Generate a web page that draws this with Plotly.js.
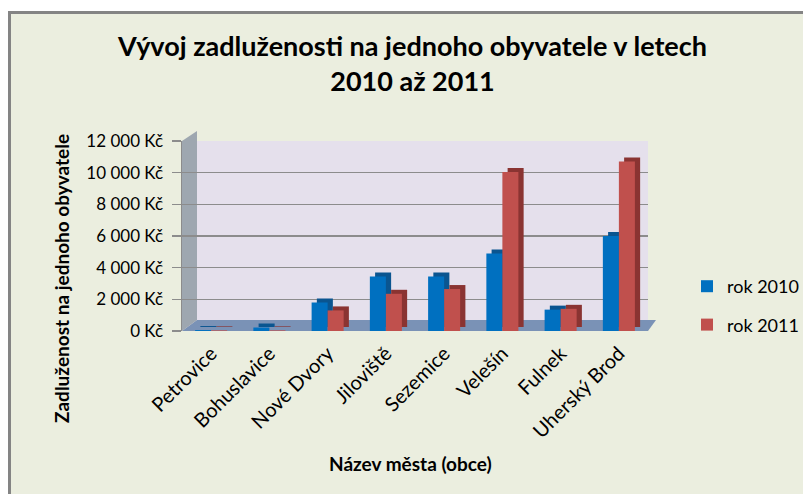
<!DOCTYPE html>
<html>
<head>
<meta charset="utf-8">
<script src="https://cdn.plot.ly/plotly-3.0.1.min.js"></script>
<style>
  html, body { margin: 0; padding: 0; background: #ffffff; width: 803px; height: 494px; overflow: hidden; }
  #frame { position: absolute; left: 8px; top: 11px; width: 800px; height: 490px;
           background: #EBEEDF; border-left: 3px solid #848484; border-top: 3px solid #848484; }
  #chart { position: absolute; left: 0; top: 0; width: 840px; height: 494px; }
</style>
</head>
<body>
<div id="frame"></div>
<div id="chart"></div>
<script>
// ---- data ----
const cities = ["Petrovice", "Bohuslavice", "Nové Dvory", "Jiloviště", "Sezemice", "Velešín", "Fulnek", "Uherský Brod"];
const rok2010 = [60, 220, 1800, 3450, 3450, 4900, 1350, 6000];
const rok2011 = [40, 40, 1300, 2350, 2650, 10050, 1400, 10700];
const seriesNames = ["rok 2010", "rok 2011"];
const yTickVals = [0, 2000, 4000, 6000, 8000, 10000, 12000];
const yTickText = ["0 Kč", "2 000 Kč", "4 000 Kč", "6 000 Kč", "8 000 Kč", "10 000 Kč", "12 000 Kč"];

// ---- geometry (pixels) ----
const W = 840, H = 494;   // drawn wider than the 803px window; the extra is cropped
const mL = 182, mR = W - 648, mT = 141, mB = 163;
const plotW = W - mL - mR, plotH = H - mT - mB;
const yMax = 12000;
const px2x = px => (px - mL) / plotW;
const px2y = py => (H - mB - py) / plotH;
const dY = 4 * yMax / plotH;         // depth shift upward (data units)
const barW = 0.275, shift = 0.09;    // in category units

const FONT = "Lato, 'Open Sans', sans-serif";

function front(vals, name, color, offset, group) {
  return { type: "bar", x: cities, y: vals, name: name, offset: offset, width: barW,
           marker: { color: color, line: { width: 0 } }, legendgroup: group, hoverinfo: "y" };
}
function depth(vals, color, offset) {
  return { type: "bar", x: cities, y: vals, base: vals.map(() => dY), offset: offset + shift, width: barW,
           marker: { color: color, line: { width: 0 } }, showlegend: false, hoverinfo: "skip" };
}

const data = [
  depth(rok2010, "#0A5590", -barW),
  front(rok2010, seriesNames[0], "#0070C0", -barW, "a"),
  depth(rok2011, "#8A3432", 0),
  front(rok2011, seriesNames[1], "#C0504D", 0, "b")
];

const layout = {
  width: W, height: H,
  margin: { l: mL, r: mR, t: mT, b: mB, pad: 0, autoexpand: false },
  paper_bgcolor: "rgba(0,0,0,0)",
  plot_bgcolor: "#E5E0EC",
  barmode: "overlay",
  showlegend: true,
  font: { family: FONT, color: "#000000", size: 17 },
  xaxis: { type: "category", range: [-0.5, cities.length - 0.5], tickangle: -45,
           showline: false, ticks: "", showgrid: false, zeroline: false,
           ticklabelstandoff: 6,
           tickfont: { family: FONT, size: 20, color: "#000000" } },
  yaxis: { range: [0, yMax], tickvals: yTickVals, ticktext: yTickText,
           showgrid: true, gridcolor: "#8C8C8C", gridwidth: 1.5, zeroline: false,
           showline: true, linecolor: "#8C8C8C", linewidth: 1.5,
           ticks: "outside", ticklen: 9, tickcolor: "#8C8C8C", tickwidth: 1.5,
           ticklabelstandoff: 5,
           tickfont: { family: FONT, size: 17, color: "#000000" } },
  legend: { x: px2x(687), y: px2y(268), xanchor: "left", yanchor: "top",
            font: { family: FONT, size: 18, color: "#000000" }, bgcolor: "rgba(0,0,0,0)",
            traceorder: "grouped", tracegroupgap: 12 },
  shapes: [
    // floor
    { type: "path", xref: "paper", yref: "paper", layer: "below",
      path: `M 0 0 L 1 0 L ${px2x(656)} ${px2y(320)} L ${px2x(197)} ${px2y(320)} Z`,
      fillcolor: "#7A92B6", line: { width: 0 } },
    // left side wall
    { type: "path", xref: "paper", yref: "paper", layer: "below",
      path: `M 0 0 L 0 1 L ${px2x(197)} ${px2y(131)} L ${px2x(197)} ${px2y(320)} Z`,
      fillcolor: "#9EA7B0", line: { width: 0 } }
  ],
  annotations: [
    { text: "<b>Vývoj zadluženosti na jednoho obyvatele v letech<br>2010 až 2011</b>", showarrow: false,
      xref: "paper", yref: "paper", x: px2x(412), y: px2y(63), xanchor: "center", yanchor: "middle",
      font: { family: FONT, size: 27, color: "#000000" } },
    { text: "<b>Zadluženost na jednoho obyvatele</b>", textangle: -90, showarrow: false,
      xref: "paper", yref: "paper", x: px2x(61), y: px2y(279), xanchor: "center", yanchor: "middle",
      font: { family: FONT, size: 19, color: "#000000" } },
    { text: "<b>Název města (obce)</b>", showarrow: false,
      xref: "paper", yref: "paper", x: px2x(410), y: px2y(463), xanchor: "center", yanchor: "middle",
      font: { family: FONT, size: 19, color: "#000000" } }
  ]
};

Plotly.newPlot("chart", data, layout, { staticPlot: true, displayModeBar: false });
</script>
</body>
</html>
